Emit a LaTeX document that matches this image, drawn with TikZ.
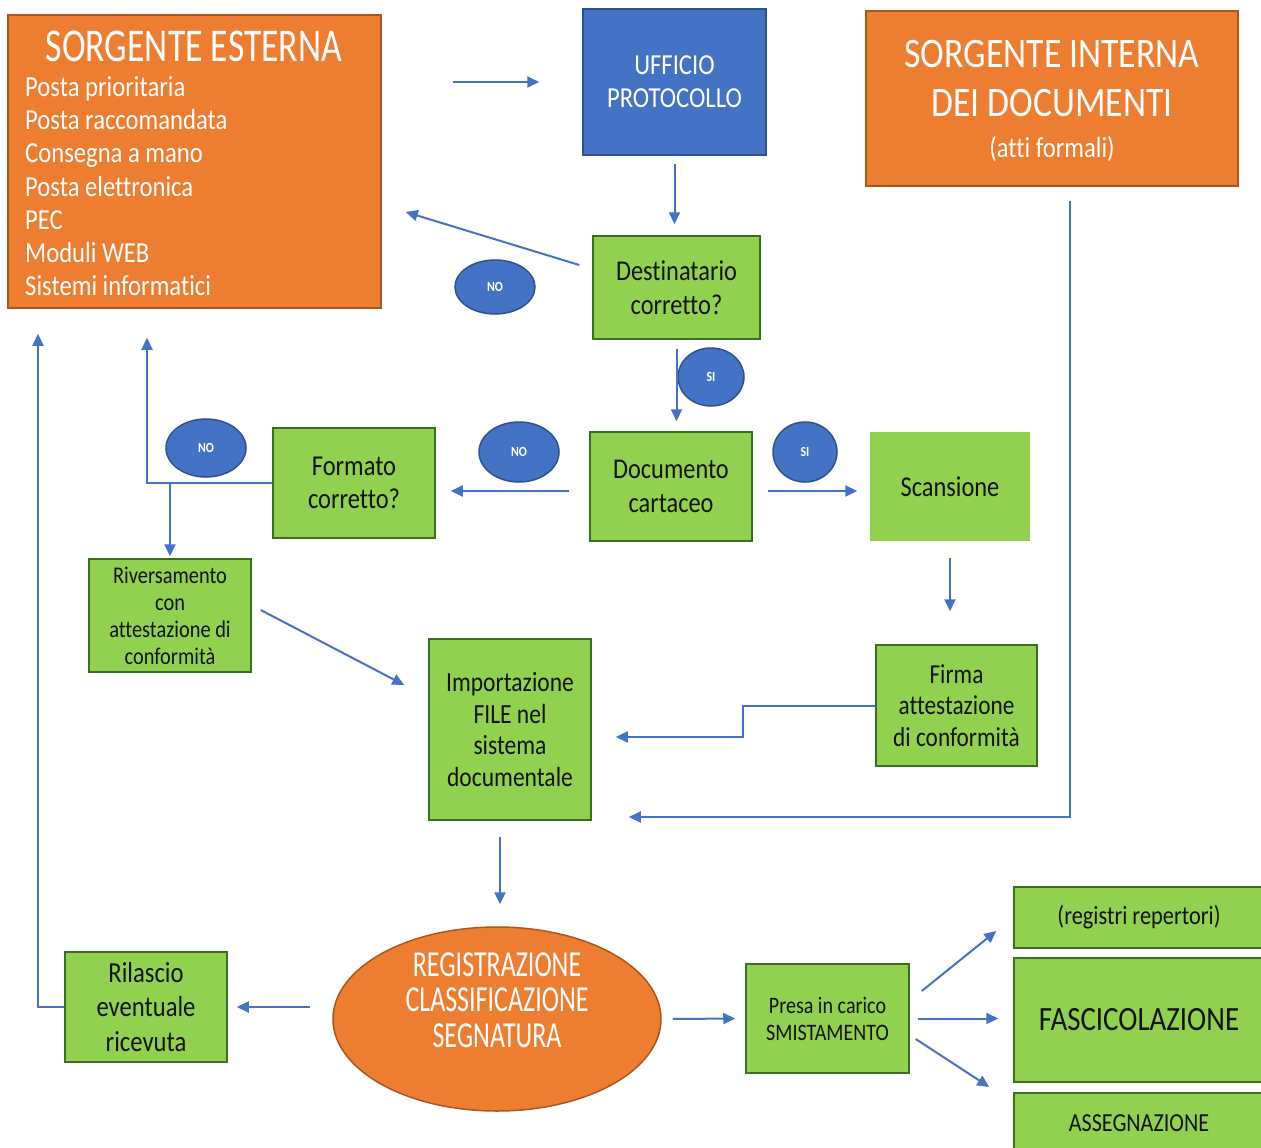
\documentclass[tikz,border=0pt]{standalone}
\usepackage{fontspec}
\setmainfont[FakeStretch=0.85,Ligatures=NoCommon]{Carlito}
\newfontfamily\condfont[FakeStretch=0.76,Ligatures=NoCommon]{Carlito}
\newfontfamily\regfont[FakeStretch=0.71,Ligatures=NoCommon]{Carlito}
\usetikzlibrary{arrows.meta,shapes.geometric,calc}
\definecolor{orng}{HTML}{ED7D31}
\definecolor{orngB}{HTML}{A9561F}
\definecolor{blu}{HTML}{4472C4}
\definecolor{bluB}{HTML}{2F528F}
\definecolor{grn}{HTML}{92D050}
\definecolor{grnB}{HTML}{3B6E22}
\definecolor{txt}{HTML}{141414}
\newcommand\fsz[2]{\fontsize{#1}{#2}\selectfont}
\tikzset{
  box/.style={draw, line width=1.5pt, inner sep=0pt, align=center},
  obox/.style={box, fill=orng, draw=orngB, text=white},
  bbox/.style={box, fill=blu, draw=bluB, text=white},
  gbox/.style={box, fill=grn, draw=grnB, text=txt},
  lbl/.style={ellipse, fill=blu, draw=bluB, line width=1.5pt, text=white, inner sep=0pt, font=\fsz{14}{16}\bfseries},
  arr/.style={draw=blu, line width=2pt, -{Triangle[length=12pt,width=11pt]}},
}
\begin{document}
\begin{tikzpicture}[x=1pt,y=-1pt]
\path[use as bounding box, fill=white] (0,0) rectangle (1261,1148);
\clip (0,0) rectangle (1261,1148);

% orange sources
\node[obox, minimum width=373pt, minimum height=293pt] (se) at (194.5,161.5) {};
\node[text=white, inner sep=0pt, font=\condfont\fsz{47}{50}] (setitle) at (194,46) {SORGENTE ESTERNA};
\node[text=white, anchor=north west, align=left, inner sep=0pt, font=\fsz{29}{33.3}] (selist) at (25,76)
  {Posta prioritaria\\Posta raccomandata\\Consegna a mano\\Posta elettronica\\PEC\\Moduli WEB\\Sistemi informatici};

\node[obox, minimum width=372pt, minimum height=175pt] (si) at (1052,98.5) {};
\node[text=white, align=center, inner sep=0pt, font=\fsz{42}{49}] (sitxt) at (1052,101)
  {SORGENTE INTERNA\\DEI DOCUMENTI\\[-8pt]{\fsz{29}{44}(atti formali)}};

\node[bbox, minimum width=183pt, minimum height=146pt, font=\fsz{29}{33}] (up) at (674.5,82) {UFFICIO\\PROTOCOLLO};

% green boxes
\node[gbox, minimum width=167pt, minimum height=103pt, font=\fsz{28.7}{34}] (dest) at (676.5,287.5) {Destinatario\\corretto?};
\node[gbox, minimum width=162pt, minimum height=109pt, font=\fsz{28.6}{34}] (doc) at (671,486.5) {Documento\\cartaceo};
\node[box, draw=none, fill=grn, text=txt, minimum width=160pt, minimum height=109pt, font=\fsz{28.7}{34}] (scan) at (950,486.5) {Scansione};
\node[gbox, minimum width=162pt, minimum height=110pt, font=\fsz{28.8}{33}] (form) at (354,483) {Formato\\corretto?};
\node[gbox, minimum width=162pt, minimum height=113pt, font=\fsz{24}{27}] (riv) at (170,615.5) {Riversamento\\con\\attestazione di\\conformità};
\node[gbox, minimum width=161pt, minimum height=121pt, font=\fsz{27.4}{31.5}] (firma) at (956.5,705.5) {Firma\\attestazione\\di conformità};
\node[gbox, minimum width=162pt, minimum height=181pt, font=\fsz{27.7}{31.7}] (imp) at (510,729.5) {Importazione\\FILE nel\\sistema\\documentale};
\node[gbox, minimum width=162pt, minimum height=110pt, font=\fsz{29}{34.5}] (ril) at (146,1007) {Rilascio\\eventuale\\ricevuta};
\node[gbox, minimum width=163pt, minimum height=109pt, font=\fsz{23.6}{27}] (presa) at (827.5,1018.5) {Presa in carico\\SMISTAMENTO};
\node[gbox, minimum width=250pt, minimum height=61pt, font=\fsz{26.3}{30}] (rr) at (1139,917.5) {(registri repertori)};
\node[gbox, minimum width=250pt, minimum height=124pt, font=\fsz{34}{38}] (fasc) at (1139,1020) {FASCICOLAZIONE};
\node[gbox, minimum width=250pt, minimum height=60pt, font=\fsz{26}{30}] (assg) at (1139,1123) {ASSEGNAZIONE};

% central ellipse
\node[ellipse, fill=orng, draw=orngB, line width=1.5pt, minimum width=328pt, minimum height=184pt, inner sep=0pt] (reg) at (497,1019) {};
\node[text=white, align=center, inner sep=0pt, font=\regfont\fsz{36.6}{35.5}] (regtxt) at (497,1000) {REGISTRAZIONE\\CLASSIFICAZIONE\\SEGNATURA};

% yes/no labels
\node[lbl, minimum width=80pt, minimum height=54pt] (no1) at (495,287) {NO};
\node[lbl, minimum width=66pt, minimum height=58pt] (si1) at (711,377) {SI};
\node[lbl, minimum width=80pt, minimum height=60pt] (no2) at (519,452) {NO};
\node[lbl, minimum width=64pt, minimum height=60pt] (si2) at (805,452) {SI};
\node[lbl, minimum width=80pt, minimum height=58pt] (no3) at (206,448) {NO};

% connectors
\draw[arr, shorten <=71pt, shorten >=43pt] (se.east |- up.west) -- (up.west);
\draw[arr, shorten <=8pt, shorten >=11pt] (up.south) -- (up.south |- dest.north);
\draw[arr] ($(dest.west)+(-13,-22.5)$) -- ($(se.east)+(24,50.5)$);
\draw[arr, shorten <=9pt, shorten >=10pt] (dest.south) -- (dest.south |- doc.north);
\draw[arr, shorten <=15pt, shorten >=12pt] ($(doc.east)+(0,4.5)$) -- ($(scan.west)+(0,4.5)$);
\draw[arr, shorten <=16pt, shorten >=33pt] (scan.south) -- (scan.south |- firma.north);
\draw[arr, shorten >=24pt] (firma.west) -- ++(-132,0) |- ($(imp.east)+(0,7.5)$);
\draw[arr, shorten <=20pt, shorten >=15pt] ($(doc.west)+(0,4.5)$) -- ($(form.east)+(0,8)$);
\draw[arr, shorten >=29pt] (form.west) -| ($(se.south)+(-47.5,0)$);
\draw[arr, shorten >=2pt] (form.west -| riv.north) -- (riv.north);
\draw[arr] ($(riv.east)+(9,-5.5)$) -- ($(imp.west)+(-24,-44.5)$);
\draw[arr, shorten >=37pt] ($(si.south)+(18,14)$) |- ($(imp.east)+(0,87.5)$);
\draw[arr] ($(imp.south)+(-10,16)$) -- ($(reg.north)+(3,-22)$);
\draw[arr, shorten <=22pt, shorten >=9pt] ($(reg.west)+(0,-12)$) -- (ril.east);
\draw[arr, shorten >=25pt] (ril.west) -| ($(se.south)+(-156.5,0)$);
\draw[arr, shorten <=11pt, shorten >=10pt] (reg.east) -- (presa.west);
\draw[arr] ($(presa.east)+(12,-27.5)$) -- ($(rr.west)+(-17,13.5)$);
\draw[arr, shorten <=8pt, shorten >=15pt] (presa.east) -- (fasc.west |- presa.east);
\draw[arr] ($(presa.east)+(6,20.5)$) -- ($(assg.west)+(-24,-36)$);
\end{tikzpicture}
\end{document}
